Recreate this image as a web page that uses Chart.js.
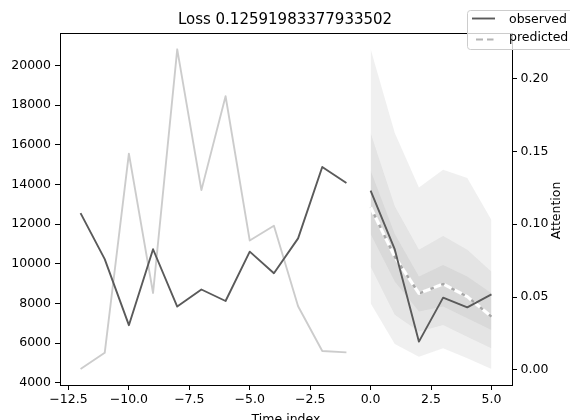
<!DOCTYPE html>
<html><head><meta charset="utf-8">
<script src="https://cdn.jsdelivr.net/npm/chart.js@4.4.1/dist/chart.umd.min.js"></script>
<style>html,body{margin:0;padding:0;background:#fff;overflow:hidden}#wrap{width:570px;height:420px;position:relative}</style>
</head><body><div id="wrap"><canvas id="c" width="570" height="420"></canvas></div>
<script>
const chartTitle = "Loss 0.12591983377933502";
const encoderX = [-12,-11,-10,-9,-8,-7,-6,-5,-4,-3,-2,-1];
const observedPast = [12550,10230,6900,10730,7840,8700,8120,10610,9520,11280,14880,14070];
const attention = [0.0007,0.0118,0.1484,0.0528,0.2200,0.1234,0.1878,0.0888,0.0990,0.0437,0.0130,0.0121];
const decoderX = [0,1,2,3,4,5];
const observedFuture = [13690,10720,6070,8290,7800,8450];
const predicted = [12850,10350,8500,8980,8340,7330];
const q02 = [8010,5950,5310,5740,5230,4690];
const q10 = [9860,7420,6580,6910,6320,5740];
const q25 = [11500,9100,7590,7840,7250,6660];
const q75 = [14700,11500,9350,9940,9350,8510];
const q90 = [16590,12900,10700,11400,10700,9600];
const q98 = [20830,16590,13850,14740,14320,12200];
const xTicks = [-12.5,-10,-7.5,-5,-2.5,0,2.5,5];
const xTickLabels = ["\u221212.5","\u221210.0","\u22127.5","\u22125.0","\u22122.5","0.0","2.5","5.0"];
const yTicks = [4000,6000,8000,10000,12000,14000,16000,18000,20000];
const yTickLabels = ["4000","6000","8000","10000","12000","14000","16000","18000","20000"];
const y2Ticks = [0,0.05,0.10,0.15,0.20];
const y2TickLabels = ["0.00","0.05","0.10","0.15","0.20"];

const FONT = 'DejaVu Sans';
Chart.defaults.font.family = FONT;
const pts = (xs, ys) => xs.map((x, i) => ({x: x, y: ys[i]}));
const OBS = '#5a5a5a';
const BAND = 'rgba(150,150,150,0.14)';
const tickFont = {family: FONT, size: 12.5};

const line = (data, color, width, extra) => Object.assign({
  data: data, borderColor: color, borderWidth: width, pointRadius: 0, tension: 0,
  fill: false, borderJoinStyle: 'round', yAxisID: 'y'
}, extra || {});

const datasets = [
  line(pts(encoderX, observedPast), OBS, 1.9),
  line(pts(decoderX, observedFuture), OBS, 1.9),
  line(pts(decoderX, predicted), '#ffffff', 3.2, {borderDash: [8, 3.5], borderCapStyle: 'butt'}),
  line(pts(decoderX, predicted), '#a6a6a6', 2.2),
  line(pts(encoderX, attention), 'rgba(0,0,0,0.2)', 1.9, {yAxisID: 'y2'}),
  line(pts(decoderX, q75), 'transparent', 0, {fill: '+1', backgroundColor: BAND}),
  line(pts(decoderX, q25), 'transparent', 0),
  line(pts(decoderX, q90), 'transparent', 0, {fill: '+1', backgroundColor: BAND}),
  line(pts(decoderX, q10), 'transparent', 0),
  line(pts(decoderX, q98), 'transparent', 0, {fill: '+1', backgroundColor: BAND}),
  line(pts(decoderX, q02), 'transparent', 0)
];

const frameAndLegend = {
  id: 'frameAndLegend',
  afterDraw(chart) {
    const ctx = chart.ctx, a = chart.chartArea;
    ctx.save();
    ctx.strokeStyle = '#000'; ctx.lineWidth = 1;
    ctx.beginPath(); ctx.moveTo(a.left, Math.round(a.top) + 0.5); ctx.lineTo(a.right, Math.round(a.top) + 0.5); ctx.stroke();
    const bx = 467.5, by = 10.5, bw = 120, bh = 39, r = 3;
    ctx.beginPath();
    ctx.moveTo(bx + r, by); ctx.lineTo(bx + bw - r, by); ctx.arcTo(bx + bw, by, bx + bw, by + r, r);
    ctx.lineTo(bx + bw, by + bh - r); ctx.arcTo(bx + bw, by + bh, bx + bw - r, by + bh, r);
    ctx.lineTo(bx + r, by + bh); ctx.arcTo(bx, by + bh, bx, by + bh - r, r);
    ctx.lineTo(bx, by + r); ctx.arcTo(bx, by, bx + r, by, r); ctx.closePath();
    ctx.fillStyle = 'rgba(255,255,255,0.8)'; ctx.fill();
    ctx.strokeStyle = '#cccccc'; ctx.stroke();
    ctx.lineWidth = 1.9; ctx.strokeStyle = OBS;
    ctx.beginPath(); ctx.moveTo(472, 18.5); ctx.lineTo(495, 18.5); ctx.stroke();
    ctx.strokeStyle = '#b4b4b4';
    ctx.beginPath(); ctx.moveTo(476, 39.5); ctx.lineTo(483, 39.5); ctx.moveTo(487, 39.5); ctx.lineTo(493.5, 39.5); ctx.stroke();
    ctx.fillStyle = '#000'; ctx.font = '12.5px "' + FONT + '"';
    ctx.textAlign = 'left'; ctx.textBaseline = 'alphabetic';
    ctx.fillText('observed', 509, 22.7);
    ctx.fillText('predicted', 509, 40.7);
    ctx.translate(557, 210.5); ctx.rotate(-Math.PI / 2);
    ctx.textAlign = 'center'; ctx.textBaseline = 'middle';
    ctx.fillText('Attention', 0, 0);
    ctx.restore();
  }
};

const setTicks = (arr) => (s) => { s.ticks = arr.map(v => ({value: v})); };

new Chart(document.getElementById('c'), {
  type: 'line',
  data: {datasets: datasets},
  plugins: [frameAndLegend],
  options: {
    responsive: false, animation: false, devicePixelRatio: 1,
    layout: {padding: 0},
    plugins: {
      legend: {display: false}, tooltip: {enabled: false},
      title: {display: true, text: chartTitle, color: '#000', font: {family: FONT, size: 15, weight: 'normal'}, padding: {top: 11.5, bottom: 3.5}}
    },
    scales: {
      x: {
        type: 'linear', min: -12.85, max: 5.85,
        afterBuildTicks: setTicks(xTicks),
        afterFit: (s) => { s.height = 35; },
        ticks: {callback: (v) => xTickLabels[xTicks.indexOf(v)], font: tickFont, color: '#000', padding: 2.5, maxRotation: 0, autoSkip: false},
        grid: {drawOnChartArea: false, tickLength: 5, color: '#000', tickWidth: 1},
        border: {color: '#000', width: 1},
        title: {display: true, text: 'Time index', color: '#000', font: tickFont, padding: {top: 0, bottom: -7}}
      },
      y: {
        type: 'linear', position: 'left', min: 3883, max: 21637,
        afterBuildTicks: setTicks(yTicks),
        afterFit: (s) => { s.width = 60; },
        ticks: {callback: (v) => yTickLabels[yTicks.indexOf(v)], font: tickFont, color: '#000', padding: 4, autoSkip: false},
        grid: {drawOnChartArea: false, tickLength: 5, color: '#000', tickWidth: 1},
        border: {color: '#000', width: 1}
      },
      y2: {
        type: 'linear', position: 'right', min: -0.0103, max: 0.2312,
        afterBuildTicks: setTicks(y2Ticks),
        afterFit: (s) => { s.width = 58; },
        ticks: {callback: (v) => y2TickLabels[y2Ticks.indexOf(v)], font: tickFont, color: '#000', padding: 3.5, autoSkip: false},
        grid: {drawOnChartArea: false, tickLength: 5, color: '#000', tickWidth: 1},
        border: {color: '#000', width: 1}
      }
    }
  }
});
</script></body></html>
